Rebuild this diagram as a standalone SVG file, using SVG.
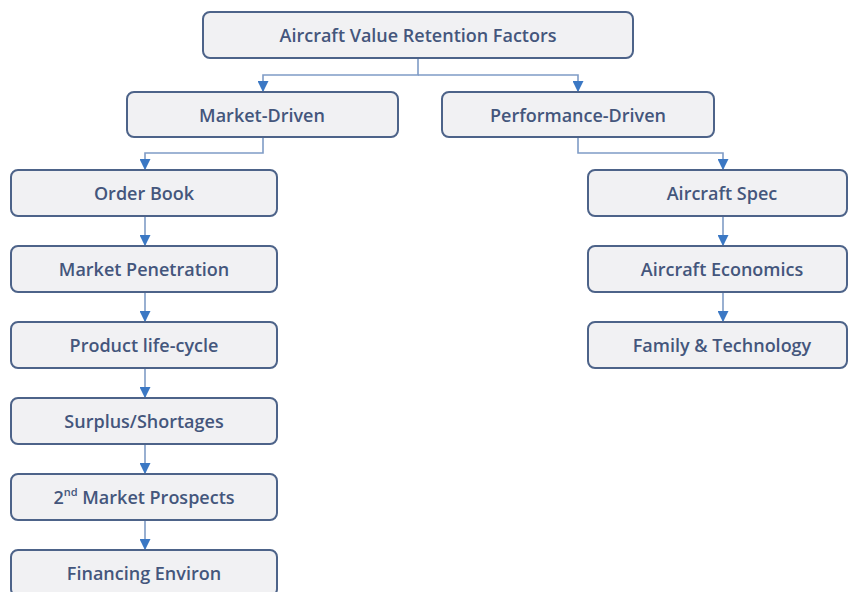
<svg xmlns="http://www.w3.org/2000/svg" width="849" height="592" viewBox="0 0 849 592">
  <style>
    .box { fill: #f1f1f3; stroke: #4d6389; stroke-width: 2; }
    .lbl { font-family: "Open Sans", "Liberation Sans", sans-serif; font-size: 18px; font-weight: 600; fill: #44567c; text-anchor: middle; dominant-baseline: central; }
    .wire { fill: none; stroke: #7f9cc6; stroke-width: 1.6; }
  </style>
  <defs>
    <marker id="arrow" viewBox="0 0 10 10" refX="9" refY="5" markerWidth="11" markerHeight="11" markerUnits="userSpaceOnUse" orient="auto">
      <path d="M0,0 L10,5 L0,10 z" fill="#3b78c4"/>
    </marker>
  </defs>
  <rect width="849" height="592" fill="#ffffff"/>

  <g id="connectors">
    <path class="wire" d="M418,58 V75 H263 V91" marker-end="url(#arrow)"/>
    <path class="wire" d="M418,75 H578 V91" marker-end="url(#arrow)"/>
    <path class="wire" d="M263,137 V153 H145 V169" marker-end="url(#arrow)"/>
    <path class="wire" d="M578,137 V153 H723 V169" marker-end="url(#arrow)"/>
    <path class="wire" d="M145,216 V245" marker-end="url(#arrow)"/>
    <path class="wire" d="M145,292 V321" marker-end="url(#arrow)"/>
    <path class="wire" d="M145,368 V397" marker-end="url(#arrow)"/>
    <path class="wire" d="M145,444 V473" marker-end="url(#arrow)"/>
    <path class="wire" d="M145,520 V549" marker-end="url(#arrow)"/>
    <path class="wire" d="M723,216 V245" marker-end="url(#arrow)"/>
    <path class="wire" d="M723,292 V321" marker-end="url(#arrow)"/>
  </g>

  <g id="root">
    <rect class="box" x="203" y="12" width="430" height="46" rx="7"/>
    <text class="lbl" x="418" y="35">Aircraft Value Retention Factors</text>
  </g>
  <g id="market-driven">
    <rect class="box" x="127" y="92" width="271" height="45" rx="7"/>
    <text class="lbl" x="262" y="114.5">Market-Driven</text>
  </g>
  <g id="performance-driven">
    <rect class="box" x="442" y="92" width="272" height="45" rx="7"/>
    <text class="lbl" x="578" y="114.5">Performance-Driven</text>
  </g>

  <g id="order-book">
    <rect class="box" x="11" y="170" width="266" height="46" rx="7"/>
    <text class="lbl" x="144" y="193">Order Book</text>
  </g>
  <g id="market-penetration">
    <rect class="box" x="11" y="246" width="266" height="46" rx="7"/>
    <text class="lbl" x="144" y="269">Market Penetration</text>
  </g>
  <g id="product-life-cycle">
    <rect class="box" x="11" y="322" width="266" height="46" rx="7"/>
    <text class="lbl" x="144" y="345">Product life-cycle</text>
  </g>
  <g id="surplus-shortages">
    <rect class="box" x="11" y="398" width="266" height="46" rx="7"/>
    <text class="lbl" x="144" y="421">Surplus/Shortages</text>
  </g>
  <g id="second-market">
    <rect class="box" x="11" y="474" width="266" height="46" rx="7"/>
    <text class="lbl" x="144" y="497">2<tspan font-size="11" dy="-6">nd</tspan><tspan dy="6"> Market Prospects</tspan></text>
  </g>
  <g id="financing-environ">
    <rect class="box" x="11" y="550" width="266" height="46" rx="7"/>
    <text class="lbl" x="144" y="573">Financing Environ</text>
  </g>

  <g id="aircraft-spec">
    <rect class="box" x="588" y="170" width="259" height="46" rx="7"/>
    <text class="lbl" x="722" y="193">Aircraft Spec</text>
  </g>
  <g id="aircraft-economics">
    <rect class="box" x="588" y="246" width="259" height="46" rx="7"/>
    <text class="lbl" x="722" y="269">Aircraft Economics</text>
  </g>
  <g id="family-technology">
    <rect class="box" x="588" y="322" width="259" height="46" rx="7"/>
    <text class="lbl" x="722" y="345">Family &amp; Technology</text>
  </g>
</svg>
